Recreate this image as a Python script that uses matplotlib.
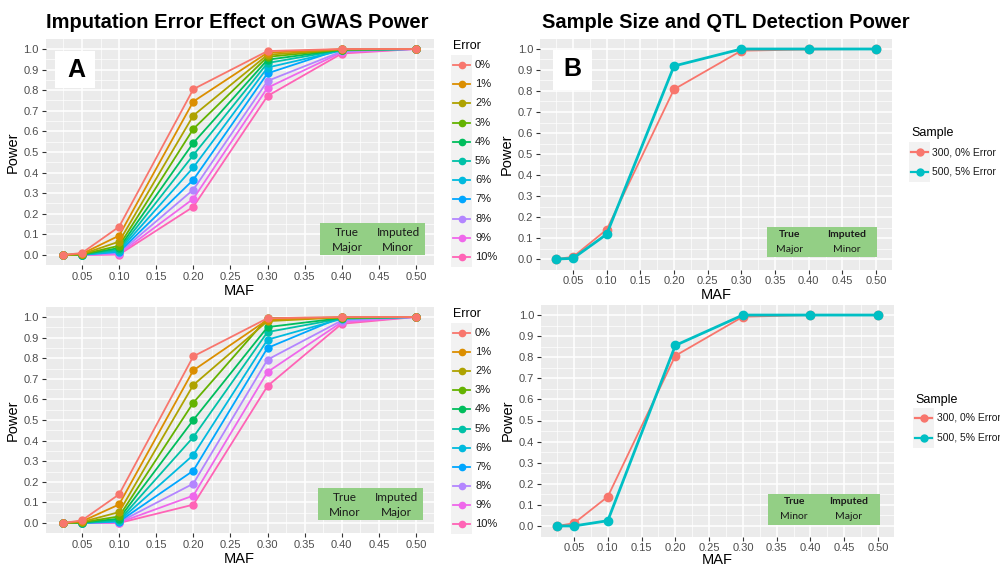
import matplotlib
matplotlib.use("Agg")
import matplotlib.pyplot as plt
from matplotlib.lines import Line2D
from matplotlib.patches import Rectangle
import numpy as np

plt.rcParams['font.family'] = ['Liberation Sans', 'DejaVu Sans']

maf = [0.025, 0.05, 0.10, 0.20, 0.30, 0.40, 0.50]
x_ticks = [0.05, 0.10, 0.15, 0.20, 0.25, 0.30, 0.35, 0.40, 0.45, 0.50]
x_ticklabels = ["0.05", "0.10", "0.15", "0.20", "0.25", "0.30", "0.35", "0.40", "0.45", "0.50"]
y_ticks = [0.0, 0.1, 0.2, 0.3, 0.4, 0.5, 0.6, 0.7, 0.8, 0.9, 1.0]
y_ticklabels = ["0.0", "0.1", "0.2", "0.3", "0.4", "0.5", "0.6", "0.7", "0.8", "0.9", "1.0"]

error_levels = ["0%", "1%", "2%", "3%", "4%", "5%", "6%", "7%", "8%", "9%", "10%"]
error_colors = ["#F8766D", "#DB8E00", "#AEA200", "#64B200", "#00BD5C", "#00C1A7",
                "#00BADE", "#00A6FF", "#B385FF", "#EF67EB", "#FF63B6"]

# Panel A top: True Major / Imputed Minor
powerA_top = [
    [0.0, 0.010, 0.137, 0.805, 0.990, 1.000, 1.0],
    [0.0, 0.006, 0.094, 0.745, 0.982, 0.999, 1.0],
    [0.0, 0.004, 0.065, 0.677, 0.972, 0.998, 1.0],
    [0.0, 0.003, 0.045, 0.612, 0.962, 0.997, 1.0],
    [0.0, 0.002, 0.034, 0.544, 0.948, 0.996, 1.0],
    [0.0, 0.002, 0.026, 0.485, 0.932, 0.995, 1.0],
    [0.0, 0.001, 0.020, 0.425, 0.910, 0.993, 1.0],
    [0.0, 0.001, 0.015, 0.365, 0.882, 1.000, 1.0],
    [0.0, 0.000, 0.010, 0.317, 0.845, 0.988, 1.0],
    [0.0, 0.000, 0.005, 0.273, 0.812, 0.984, 1.0],
    [0.0, 0.000, 0.002, 0.234, 0.772, 0.978, 1.0],
]
# Panel A bottom: True Minor / Imputed Major
powerA_bot = [
    [0.0, 0.013, 0.139, 0.809, 0.994, 1.000, 1.0],
    [0.0, 0.008, 0.090, 0.741, 0.987, 0.999, 1.0],
    [0.0, 0.005, 0.053, 0.670, 0.980, 0.998, 1.0],
    [0.0, 0.003, 0.032, 0.584, 0.995, 0.997, 1.0],
    [0.0, 0.002, 0.021, 0.500, 0.951, 0.995, 1.0],
    [0.0, 0.001, 0.013, 0.417, 0.927, 0.993, 1.0],
    [0.0, 0.001, 0.010, 0.330, 0.890, 0.991, 1.0],
    [0.0, 0.000, 0.007, 0.254, 0.850, 1.000, 1.0],
    [0.0, 0.000, 0.004, 0.191, 0.793, 0.983, 1.0],
    [0.0, 0.000, 0.002, 0.133, 0.733, 0.975, 1.0],
    [0.0, 0.000, 0.000, 0.089, 0.665, 0.967, 1.0],
]

sample_levels = ["300, 0% Error", "500, 5% Error"]
sample_colors = ["#F8766D", "#00BFC4"]
powerB_top = [
    [0.0, 0.010, 0.140, 0.808, 0.992, 0.998, 1.0],
    [0.0, 0.003, 0.118, 0.919, 1.000, 1.000, 1.0],
]
powerB_bot = [
    [0.0, 0.013, 0.139, 0.807, 0.992, 1.000, 1.0],
    [0.0, 0.000, 0.025, 0.856, 1.000, 1.000, 1.0],
]

W, H = 1000, 569
fig = plt.figure(figsize=(10, 5.69), dpi=100)

def fr(left, top, right, bottom):
    return [left / W, 1 - bottom / H, (right - left) / W, (bottom - top) / H]

ax_tl = fig.add_axes(fr(45.8, 38.7, 433.6, 265.3))
ax_bl = fig.add_axes(fr(45.8, 306.7, 433.6, 533.3))
ax_tr = fig.add_axes(fr(540.2, 38.5, 892.0, 269.5))
ax_br = fig.add_axes(fr(541.1, 304.5, 894.0, 536.5))

GREEN = "#93cf85"

def style(ax):
    ax.set_facecolor("#EBEBEB")
    ax.set_xlim(0.00125, 0.52375)
    ax.set_ylim(-0.05, 1.05)
    for v in np.arange(0.025, 0.53, 0.05):
        ax.axvline(v, color="white", lw=0.5, zorder=0)
    for v in np.arange(0.05, 1.0, 0.1):
        ax.axhline(v, color="white", lw=0.5, zorder=0)
    for v in x_ticks:
        ax.axvline(v, color="white", lw=1.1, zorder=0)
    for v in y_ticks:
        ax.axhline(v, color="white", lw=1.1, zorder=0)
    ax.set_xticks(x_ticks)
    ax.set_xticklabels(x_ticklabels)
    ax.set_yticks(y_ticks)
    ax.set_yticklabels(y_ticklabels)
    ax.tick_params(axis="both", labelsize=8, labelcolor="#4D4D4D", color="#333333",
                   length=3, width=0.8, pad=2)
    for s in ax.spines.values():
        s.set_visible(False)
    ax.set_xlabel("MAF", fontsize=10.5, labelpad=1)
    ax.set_ylabel("Power", fontsize=10.5, labelpad=3)

for ax in (ax_tl, ax_bl, ax_tr, ax_br):
    style(ax)
ax_br.xaxis.labelpad = 0

# Lines
for i, c in enumerate(error_colors):
    ax_tl.plot(maf, powerA_top[i], color=c, lw=1.3, marker="o", ms=5, zorder=3 + 0.01 * (10 - i))
    ax_bl.plot(maf, powerA_bot[i], color=c, lw=1.3, marker="o", ms=5, zorder=3 + 0.01 * (10 - i))
for i, c in enumerate(sample_colors):
    ax_tr.plot(maf, powerB_top[i], color=c, lw=1.3 if i == 0 else 2.0, marker="o", ms=6, zorder=3 + i)
    ax_br.plot(maf, powerB_bot[i], color=c, lw=1.3 if i == 0 else 2.0, marker="o", ms=6, zorder=3 + i)

# Green boxes
def green_box(ax, x0, x1, y0, y1, xs, ys, top_labels, bot_labels, fs, bold_top):
    ax.add_patch(Rectangle((x0, y0), x1 - x0, y1 - y0, facecolor=GREEN, edgecolor="none", zorder=5))
    for xx, t, b in zip(xs, top_labels, bot_labels):
        ax.text(xx, ys[0], t, ha="center", va="center", fontsize=fs, family="Lato",
                fontweight="bold" if bold_top else "normal", color="#1a1a1a", zorder=6)
        ax.text(xx, ys[1], b, ha="center", va="center", fontsize=fs, family="Lato",
                color="#1a1a1a", zorder=6)

green_box(ax_tl, 0.371, 0.512, 0.0, 0.155, [0.407, 0.476], [0.11, 0.035],
          ["True", "Imputed"], ["Major", "Minor"], 8.5, False)
green_box(ax_bl, 0.368, 0.510, 0.015, 0.17, [0.404, 0.474], [0.126, 0.049],
          ["True", "Imputed"], ["Minor", "Major"], 8.5, False)
green_box(ax_tr, 0.338, 0.502, 0.01, 0.152, [0.371, 0.457], [0.119, 0.043],
          ["True", "Imputed"], ["Major", "Minor"], 7.5, True)
green_box(ax_br, 0.337, 0.503, 0.005, 0.152, [0.376, 0.457], [0.118, 0.043],
          ["True", "Imputed"], ["Minor", "Major"], 7.5, True)

# Panel letters
ax_tl.add_patch(Rectangle((0.0136, 0.81), 0.054, 0.18, facecolor="white", edgecolor="none", zorder=5))
ax_tl.text(0.0425, 0.90, "A", ha="center", va="center", fontsize=18, fontweight="bold", zorder=6)
ax_tr.add_patch(Rectangle((0.0203, 0.805), 0.058, 0.19, facecolor="white", edgecolor="none", zorder=5))
ax_tr.text(0.0485, 0.905, "B", ha="center", va="center", fontsize=18, fontweight="bold", zorder=6)

# Titles
fig.text(237 / W, 1 - 23 / H, "Imputation Error Effect on GWAS Power", ha="center", va="center",
         fontsize=14.5, fontweight="bold")
fig.text(726 / W, 1 - 23 / H, "Sample Size and QTL Detection Power", ha="center", va="center",
         fontsize=14.5, fontweight="bold")

# Legends (drawn in figure pixel coords)
def px(x, y):
    return x / W, 1 - y / H

def legend(title, title_xy, first_y, step, key_x0, key_x1, label_x, labels, colors, fs, tfs, lw, ms):
    tx, ty = px(*title_xy)
    fig.text(tx, ty, title, ha="left", va="center", fontsize=tfs)
    n = len(labels)
    bx0, by0 = px(key_x0 - 2, first_y + step * (n - 1) + step / 2)
    bx1, by1 = px(key_x1 + 2, first_y - step / 2)
    fig.add_artist(Rectangle((bx0, by0), bx1 - bx0, by1 - by0, transform=fig.transFigure,
                             facecolor="#F2F2F2", edgecolor="none"))
    for i, (lab, c) in enumerate(zip(labels, colors)):
        y = first_y + step * i
        x0, yy = px(key_x0, y)
        x1, _ = px(key_x1, y)
        xm, _ = px((key_x0 + key_x1) / 2, y)
        fig.add_artist(Line2D([x0, x1], [yy, yy], color=c, lw=lw, transform=fig.transFigure))
        fig.add_artist(Line2D([xm], [yy], color=c, marker="o", ms=ms, lw=0, transform=fig.transFigure))
        lx, _ = px(label_x, y)
        fig.text(lx, yy, lab, ha="left", va="center", fontsize=fs, color="#1a1a1a")

legend("Error", (453, 46), 65, 19.2, 453, 470, 475, error_levels, error_colors, 8, 9, 1.3, 4.5)
legend("Error", (453, 314), 333, 19.1, 453, 470, 475, error_levels, error_colors, 8, 9, 1.3, 4.5)
legend("Sample", (911, 133), 152, 20, 911, 928, 932, sample_levels, sample_colors, 7.5, 9, 1.6, 5)
legend("Sample", (915, 400), 418, 20, 915, 932, 937, sample_levels, sample_colors, 7.5, 9, 1.6, 5)

fig.savefig("out.png", dpi=100)
